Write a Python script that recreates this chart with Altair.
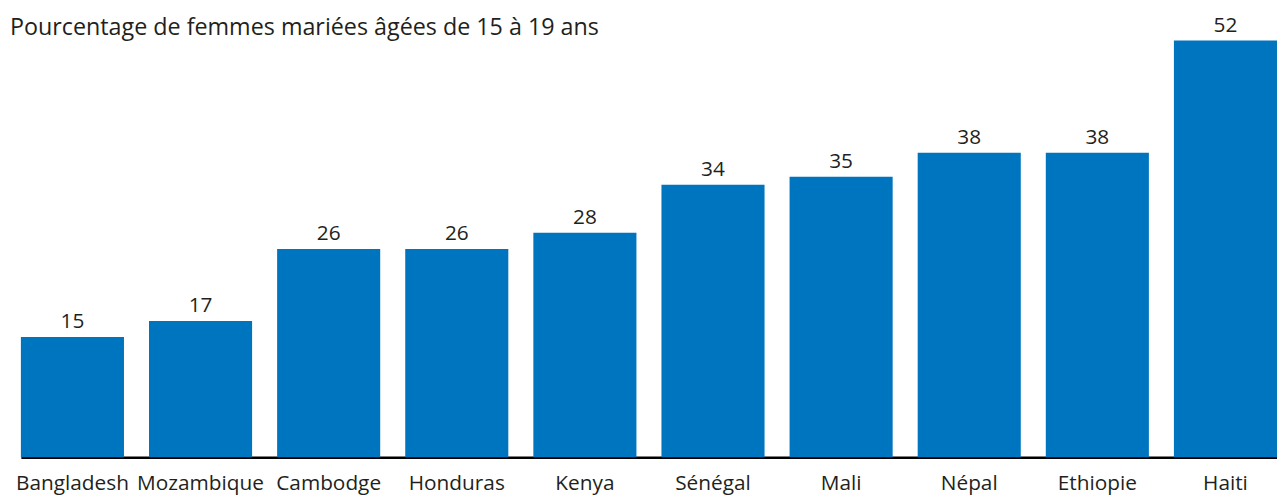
import altair as alt
import pandas as pd

countries = ["Bangladesh", "Mozambique", "Cambodge", "Honduras", "Kenya",
             "Sénégal", "Mali", "Népal", "Ethiopie", "Haiti"]
values = [15, 17, 26, 26, 28, 34, 35, 38, 38, 52]
title_text = "Pourcentage de femmes mariées âgées de 15 à 19 ans"

df = pd.DataFrame({"pays": countries, "valeur": values})
tdf = pd.DataFrame({"t": [title_text]})

FONT = "Open Sans"
TEXT = "#231f20"

x = alt.X("pays:N", sort=countries, title=None,
          scale=alt.Scale(paddingInner=0.1953, paddingOuter=0, round=False,
                          range=[9, 1276]),
          axis=alt.Axis(labelAngle=0, labelFontSize=21, labelFont=FONT,
                        labelColor=TEXT, labelPadding=33, ticks=False,
                        domainColor="#000000", domainWidth=2.5,
                        labelBaseline="alphabetic"))
y = alt.Y("valeur:Q", title=None, scale=alt.Scale(domain=[0, 55.8], nice=False),
          axis=None)

bars = alt.Chart(df).mark_bar(color="#0075bf").encode(x=x, y=y)
labels = alt.Chart(df).mark_text(dy=-9, baseline="alphabetic", fontSize=21,
                                 font=FONT, color=TEXT).encode(
    x=alt.X("pays:N", sort=countries), y="valeur:Q", text="valeur:Q")
title = alt.Chart(tdf).mark_text(align="left", baseline="alphabetic",
                                 fontSize=23.5, font=FONT, color=TEXT).encode(
    x=alt.value(-2), y=alt.value(25), text="t:N")

chart = alt.layer(bars, labels, title).properties(
    width=1275, height=451,
    padding={"left": 2, "top": 0, "right": 0, "bottom": 0},
).configure_view(stroke=None)

chart.save("out.html", embed_options={"renderer": "svg", "actions": False})
